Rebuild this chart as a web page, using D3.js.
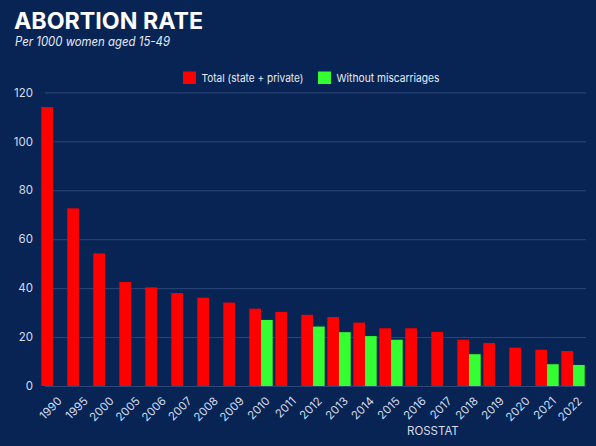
<!DOCTYPE html>
<html>
<head>
    <title>Abortion Rate</title>
    <script src="https://d3js.org/d3.v7.min.js"></script>
    <style>
        body { margin: 0; background: #082454; }
        svg { display: block; background: #082454; }
        text { font-family: "Inter", "DejaVu Sans", sans-serif; }
    </style>
</head>
<body>
    <svg id="chart" width="596" height="446"></svg>

    <script>
        const years = ["1990","1995","2000","2005","2006","2007","2008","2009","2010","2011",
                       "2012","2013","2014","2015","2016","2017","2018","2019","2020","2021","2022"];
        const total = [114, 72.6, 54.2, 42.5, 40.3, 38, 36.1, 34.1, 31.6, 30.3,
                       29.1, 28.2, 25.9, 23.6, 23.6, 22.1, 18.9, 17.6, 15.7, 14.8, 14.3];
        const noMiscarriage = [null, null, null, null, null, null, null, null, 27, null,
                               24.3, 22, 20.4, 18.9, null, null, 13, null, null, 8.9, 8.6];
        const yTicks = [0, 20, 40, 60, 80, 100, 120];
        const series = [
            { name: "Total (state + private)", values: total, color: "#ff0000" },
            { name: "Without miscarriages", values: noMiscarriage, color: "#33ff33" }
        ];

        const svg = d3.select("#chart");
        const plotLeft = 40, plotRight = 586, plotTop = 92.4, plotBottom = 386;

        const x0 = d3.scaleBand().domain(years).range([plotLeft, plotRight])
            .paddingInner(0.1).paddingOuter(0.05);
        const x1 = d3.scaleBand().domain([0, 1]).range([0, x0.bandwidth()]);
        const y = d3.scaleLinear().domain([0, 120]).range([plotBottom, plotTop]);

        // title
        svg.append("text").attr("x", 14).attr("y", 29)
            .attr("fill", "#ffffff").attr("font-size", 23).attr("font-weight", 700)
            .attr("textLength", 189).attr("lengthAdjust", "spacingAndGlyphs")
            .text("ABORTION RATE");
        svg.append("text").attr("x", 15).attr("y", 46)
            .attr("fill", "#e6ebf5").attr("font-size", 12.5).attr("font-style", "italic")
            .attr("textLength", 155).attr("lengthAdjust", "spacingAndGlyphs")
            .text("Per 1000 women aged 15-49");

        // legend
        const legendX = [183, 318];
        const legendW = [102, 103];
        series.forEach((s, i) => {
            svg.append("rect").attr("x", legendX[i]).attr("y", 71.5)
                .attr("width", 13).attr("height", 12.5).attr("fill", s.color);
            svg.append("text").attr("x", legendX[i] + 18.5).attr("y", 81.5)
                .attr("fill", "#e6ebf5").attr("font-size", 11)
                .attr("textLength", legendW[i]).attr("lengthAdjust", "spacingAndGlyphs")
                .text(s.name);
        });

        // grid
        svg.append("g").selectAll("line").data(yTicks).join("line")
            .attr("x1", 45).attr("x2", plotRight)
            .attr("y1", d => y(d) + 0.5).attr("y2", d => y(d) + 0.5)
            .attr("stroke", "#2c4677").attr("stroke-width", 1);

        // y axis labels
        const yAxis = d3.axisLeft(y).tickValues(yTicks).tickSize(0).tickPadding(0);
        const yg = svg.append("g").attr("transform", `translate(33,0)`).call(yAxis);
        yg.select(".domain").remove();
        yg.selectAll("text").attr("fill", "#d5dcea").attr("font-size", 11.5)
            .attr("font-family", "Inter, sans-serif");

        // bars
        series.forEach((s, i) => {
            svg.append("g").selectAll("rect")
                .data(years.map((yr, j) => ({ yr, v: s.values[j] })).filter(d => d.v != null))
                .join("rect")
                .attr("x", d => x0(d.yr) + x1(i))
                .attr("width", x1.bandwidth())
                .attr("y", d => y(d.v))
                .attr("height", d => y(0) - y(d.v))
                .attr("fill", s.color);
        });

        // x axis labels
        const xAxis = d3.axisBottom(x0).tickSize(0).tickPadding(0);
        const xg = svg.append("g").attr("transform", `translate(4,${plotBottom + 10})`).call(xAxis);
        xg.select(".domain").remove();
        xg.selectAll("text")
            .attr("fill", "#d5dcea").attr("font-size", 11.5)
            .attr("font-family", "Inter, sans-serif")
            .attr("text-anchor", "end").attr("dy", "0.7em").attr("y", 0)
            .attr("transform", "rotate(-45)");

        // source
        svg.append("text").attr("x", 407).attr("y", 435)
            .attr("fill", "#d5dcea").attr("font-size", 11.5)
            .text("ROSSTAT");
    </script>
</body>
</html>
